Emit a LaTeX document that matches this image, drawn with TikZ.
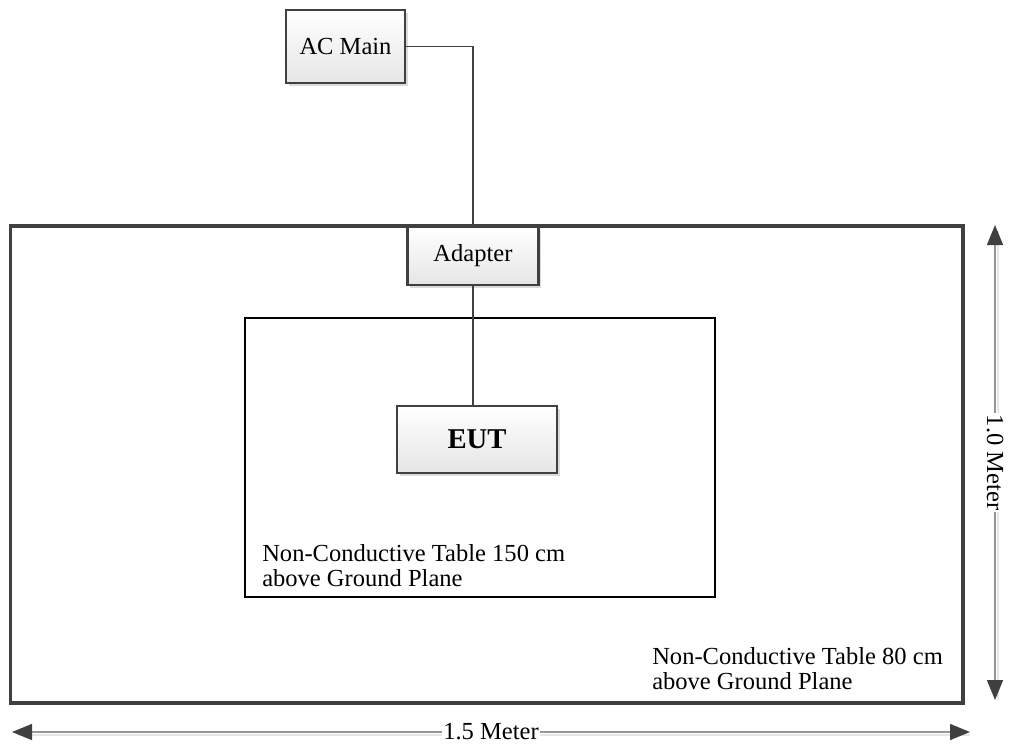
\documentclass[tikz,border=0pt]{standalone}
\usepackage{fontspec}
\setmainfont{Liberation Serif}
\usepackage{tikz}
\usetikzlibrary{arrows.meta,positioning,calc,shadows}
\definecolor{framecolor}{RGB}{64, 64, 64}
\definecolor{dimcolor}{RGB}{150, 150, 150}

\begin{document}
\begin{tikzpicture}[
    x=0.75pt, y=-0.75pt,
    device/.style={draw=framecolor, line width=1.6pt, top color=white, bottom color=black!10,
        drop shadow={shadow xshift=2.2pt, shadow yshift=-2.2pt, fill=black!14, opacity=1},
        inner sep=0pt, font=\fontsize{18.4}{20}\selectfont},
    table/.style={draw, inner sep=0pt},
    note/.style={align=left, anchor=west, inner sep=0pt, font=\fontsize{18.4}{18.75}\selectfont},
    wire/.style={draw=framecolor, line width=0.8pt},
    dimline/.style={draw=dimcolor, line width=1.1pt, {Triangle[length=15pt, width=12pt, color=framecolor]}-{Triangle[length=15pt, width=12pt, color=framecolor]}},
    dimlabel/.style={fill=white, inner sep=1pt, font=\fontsize{18.4}{20}\selectfont}
]
    \useasboundingbox (0,0) rectangle (1009,744);

    % Tables
    \node[table, draw=framecolor, line width=2.3pt, minimum width=714.4pt, minimum height=357.75pt] (table80) at (486.75, 464.5) {};
    \node[table, draw=black, line width=1.1pt, minimum width=352.5pt, minimum height=209.25pt] (table150) at (480, 457.5) {};

    % Devices
    \node[device, minimum width=89.25pt, minimum height=54.75pt] (acmain) at (345.5, 46.5) {AC Main};
    \node[device, minimum width=98.25pt, minimum height=43.5pt] (adapter) at (473, 256) {Adapter};
    \node[device, minimum width=120pt, minimum height=50.25pt, font=\fontsize{21.5}{24}\selectfont\bfseries] (eut) at (477, 439.5) {EUT};

    % Cables
    \draw[wire] (acmain.east) -| (adapter.north);
    \draw[wire] (adapter.south) -- (adapter.south |- eut.north);

    % Table notes
    \node[note] (note150) at (262, 566) {Non-Conductive Table 150 cm\\above Ground Plane};
    \node[note] (note80) at (652, 669) {Non-Conductive Table 80 cm\\above Ground Plane};

    % Dimensions
    \coordinate (dimtop) at (995, 225);
    \coordinate (dimbottom) at (995, 700);
    \coordinate (dimleft) at (12, 732);
    \coordinate (dimright) at (970, 732);
    \draw[black!10, line width=1.1pt] ($(dimtop)+(3,6)$) -- ($(dimbottom)+(3,0)$);
    \draw[black!10, line width=1.1pt] ($(dimleft)+(6,3)$) -- ($(dimright)+(0,3)$);
    \draw[dimline] (dimtop) -- node[dimlabel, rotate=-90] (height) {1.0 Meter} (dimbottom);
    \draw[dimline] (dimleft) -- node[dimlabel] (width) {1.5 Meter} (dimright);
\end{tikzpicture}
\end{document}
